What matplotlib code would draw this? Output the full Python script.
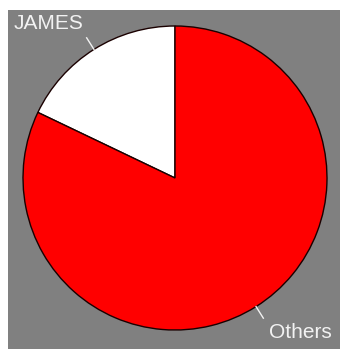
import numpy as np
import matplotlib
matplotlib.use('Agg')
import matplotlib.pyplot as plt

plt.rcParams['font.family'] = ['Liberation Sans', 'DejaVu Sans']

# Datos del gráfico
labels = ['JAMES', 'Others']
shares = [17.9, 82.1]
colors = ['#ffffff', '#ff0000']

fig = plt.figure(figsize=(3.40, 3.49), dpi=100)
fig.patch.set_facecolor('white')

# Área gris (margen blanco arriba e izquierda)
ax = fig.add_axes([8 / 340, 0, 332 / 340, 339 / 349])

wedges, _ = ax.pie(shares, colors=colors, startangle=90, counterclock=True,
                   wedgeprops=dict(edgecolor='#1a0000', linewidth=1.0),
                   frame=True)

ax.set_facecolor('#808080')
for s in ax.spines.values():
    s.set_visible(False)
ax.set_xticks([])
ax.set_yticks([])
ax.set_aspect('auto')
ax.set_xlim(-167 / 152, 165 / 152)
ax.set_ylim(-171 / 152, 168 / 152)

# Etiquetas con línea guía
for w, lab in zip(wedges, labels):
    ang = np.deg2rad((w.theta1 + w.theta2) / 2)
    c, s = np.cos(ang), np.sin(ang)
    x0, y0 = c * 1.0, s * 1.0
    x1, y1 = c * 1.09, s * 1.09
    ax.plot([x0, x1], [y0, y1], color='#f2f2f2', lw=1.0, clip_on=False)
    if c < 0:
        ax.text(x1 - 0.02, y1 + 0.03, lab, ha='right', va='bottom',
                color='#f2f2f2', fontsize=15)
    else:
        ax.text(x1 + 0.04, y1 - 0.03, lab, ha='left', va='top',
                color='#f2f2f2', fontsize=15)

plt.savefig('out.png', dpi=100)
